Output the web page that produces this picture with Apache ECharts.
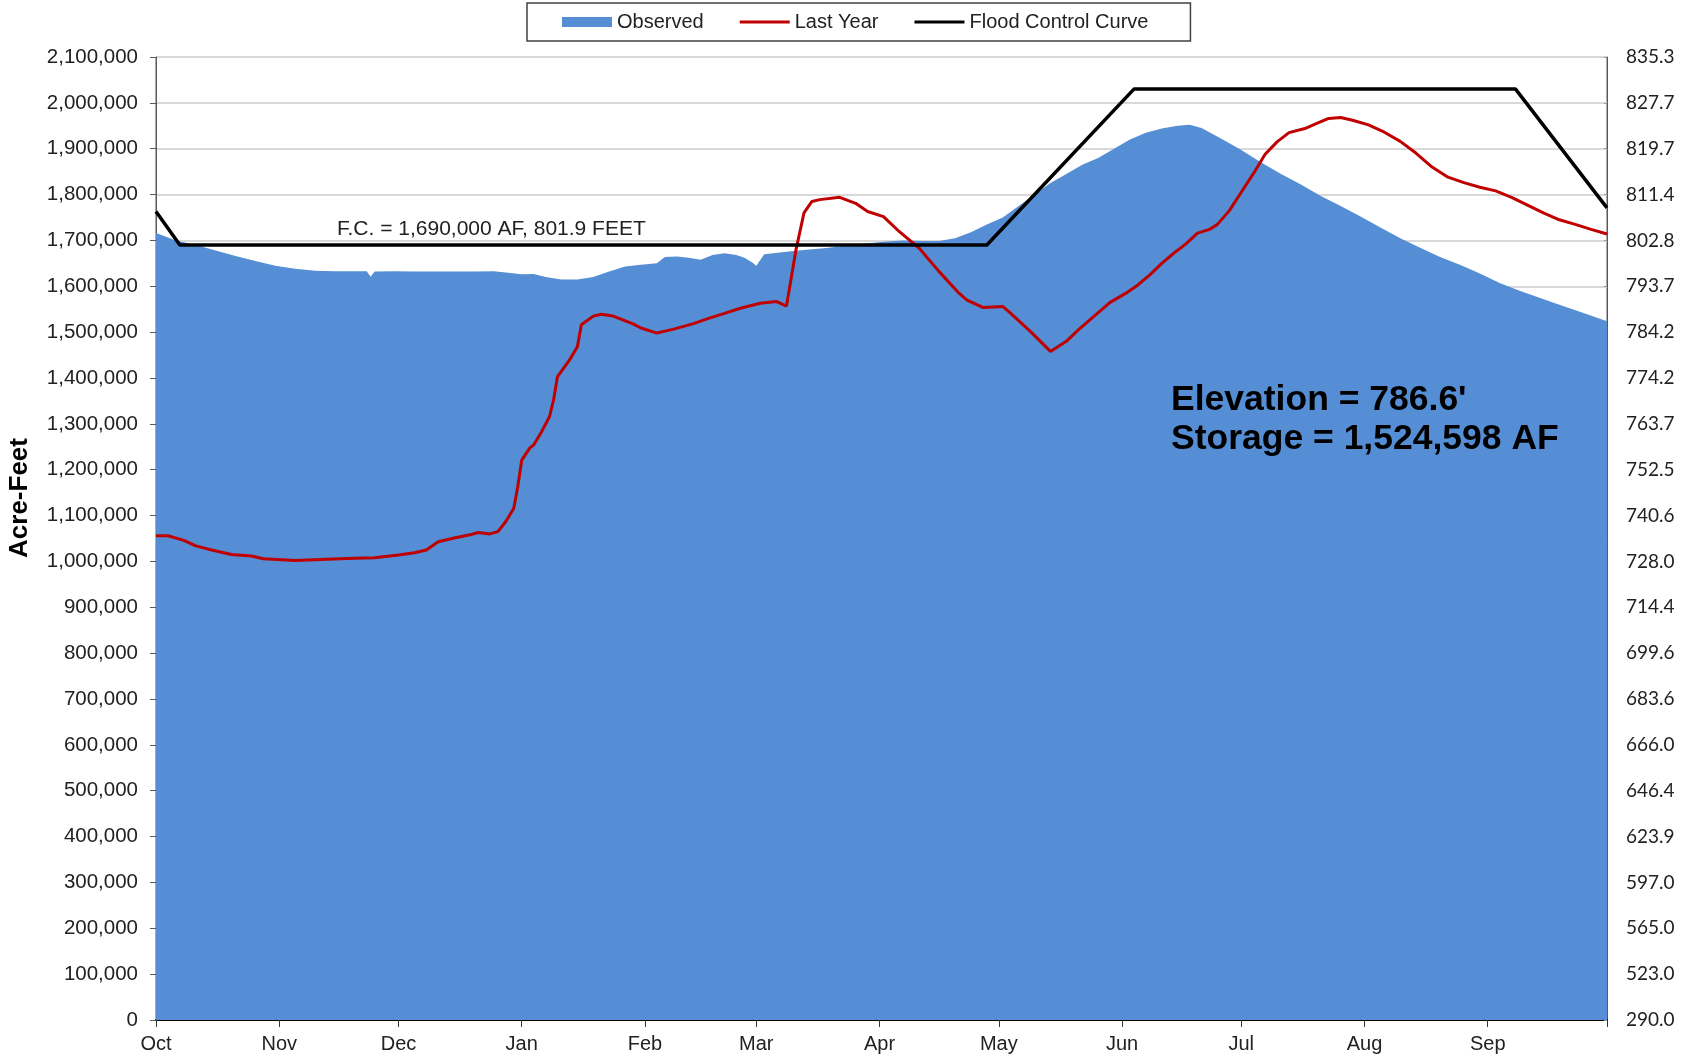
<!DOCTYPE html>
<html>
<head>
<meta charset="utf-8">
<title>Reservoir Storage</title>
<script src="https://cdn.jsdelivr.net/npm/echarts@6.0.0/dist/echarts.min.js"></script>
<style>
  html, body { margin: 0; padding: 0; background: #fff; }
  #chart { width: 1692px; height: 1060px; }
</style>
</head>
<body>
<div id="chart"></div>
<script>
// day 0 = Oct 1 of the water year, storage in acre-feet
const monthStarts = [0, 31, 61, 92, 123, 151, 182, 212, 243, 273, 304, 335, 365]
const monthNames = ['Oct', 'Nov', 'Dec', 'Jan', 'Feb', 'Mar', 'Apr', 'May', 'Jun', 'Jul', 'Aug', 'Sep']
// right axis: elevation (feet) matching each 100,000 AF gridline, bottom to top
const elevLabels = ['290.0', '523.0', '565.0', '597.0', '623.9', '646.4', '666.0', '683.6', '699.6', '714.4', '728.0',
  '740.6', '752.5', '763.7', '774.2', '784.2', '793.7', '802.8', '811.4', '819.7', '827.7', '835.3']

const observedDays = [0, 5, 10, 15, 20, 25, 30, 35, 40, 45, 50, 53, 54, 55, 60, 65, 70, 75, 80, 85,
  88, 92, 95, 98, 102, 106, 110, 114, 118, 122, 126, 128, 131, 134, 137, 140, 143, 146, 148, 150,
  151, 153, 158, 163, 168, 173, 178, 183, 188, 193, 197, 201, 205, 209, 213, 217, 221, 225, 229, 233,
  237, 241, 245, 249, 253, 257, 260, 263, 268, 273, 278, 283, 288, 293, 298, 303, 308, 313, 318, 323,
  328, 333, 338, 343, 348, 353, 358, 365]
const observedAF = [1716000, 1700000, 1690000, 1678000, 1666000, 1655000, 1645000, 1638000, 1634000, 1633000,
  1633000, 1633000, 1621000, 1632000, 1633000, 1632000, 1632000, 1632000, 1632000, 1633000,
  1630000, 1626000, 1627000, 1620000, 1615000, 1615000, 1620000, 1632000, 1643000, 1647000,
  1650000, 1664000, 1665000, 1662000, 1658000, 1668000, 1672000, 1668000, 1662000, 1652000,
  1645000, 1670000, 1675000, 1679000, 1683000, 1688000, 1693000, 1697000, 1700000, 1699000,
  1699000, 1705000, 1718000, 1735000, 1750000, 1775000, 1800000, 1825000, 1845000, 1865000,
  1880000, 1900000, 1920000, 1935000, 1944000, 1950000, 1952000, 1945000, 1922000, 1897000,
  1870000, 1845000, 1822000, 1797000, 1775000, 1752000, 1728000, 1705000, 1684000, 1664000,
  1647000, 1628000, 1607000, 1590000, 1575000, 1560000, 1545000, 1524000]

const lastYearDays = [0, 3, 7, 10, 14, 19, 24, 27, 35, 43, 50, 55, 61, 65, 68, 71, 75, 79, 81, 84,
  86, 88, 90, 91, 92, 94, 95, 97, 99, 100, 101, 104, 106, 107, 110, 112, 115, 120, 122, 126,
  130, 135, 139, 143, 147, 152, 156, 158.6, 161, 163, 165, 167, 172, 176, 179, 183, 187, 192, 197, 202,
  204, 208, 213, 215, 220, 225, 229, 232, 236, 240, 244, 247, 250, 253, 256, 259, 262, 265, 267, 270,
  273, 276, 279, 282, 285, 289, 292, 295, 298, 301, 305, 309, 313, 317, 321, 325, 329, 333, 337, 341,
  345, 349, 353, 357, 361, 365]
const lastYearAF = [1056000, 1056000, 1046000, 1034000, 1025000, 1015000, 1012000, 1006000, 1002000, 1005000,
  1007000, 1008000, 1014000, 1019000, 1025000, 1043000, 1051000, 1058000, 1063000, 1060000,
  1065000, 1087000, 1116000, 1163000, 1221000, 1247000, 1254000, 1283000, 1316000, 1352000,
  1403000, 1439000, 1468000, 1516000, 1535000, 1539000, 1535000, 1518000, 1509000, 1498000,
  1506000, 1518000, 1530000, 1541000, 1552000, 1563000, 1567000, 1557000, 1680000, 1760000,
  1785000, 1789000, 1794000, 1781000, 1763000, 1752000, 1719000, 1683000, 1632000, 1585000,
  1570000, 1554000, 1556000, 1541000, 1501000, 1458000, 1480000, 1505000, 1535000, 1565000,
  1585000, 1603000, 1625000, 1650000, 1672000, 1692000, 1716000, 1724000, 1735000, 1765000,
  1805000, 1845000, 1888000, 1915000, 1935000, 1944000, 1955000, 1966000, 1968000, 1962000,
  1952000, 1936000, 1916000, 1890000, 1860000, 1838000, 1826000, 1816000, 1808000, 1794000,
  1777000, 1760000, 1745000, 1735000, 1724000, 1714000]

const floodDays = [0, 6, 209, 246, 342, 365]
const floodAF = [1763000, 1690000, 1690000, 2030000, 2030000, 1771000]

const pairs = (xs, ys) => xs.map((x, i) => [x, ys[i]])
const font = 'Liberation Sans, Arial, sans-serif'
const lineIcon = 'path://M0,0H50V3H0Z'

const chart = echarts.init(document.getElementById('chart'))
chart.setOption({
  animation: false,
  backgroundColor: '#fff',
  textStyle: { fontFamily: font },
  legend: {
    left: 527,
    top: 3,
    padding: [9, 42, 9, 35],
    itemGap: 36,
    itemWidth: 50,
    itemHeight: 10,
    borderColor: '#404040',
    borderWidth: 1.5,
    textStyle: { fontSize: 20, color: '#222' },
    data: [
      { name: 'Observed', icon: 'rect' },
      { name: 'Last Year', icon: lineIcon },
      { name: 'Flood Control Curve', icon: lineIcon }
    ]
  },
  grid: {
    left: 156,
    right: 85,
    top: 57,
    bottom: 40,
    show: true,
    borderColor: '#595959',
    borderWidth: 1
  },
  xAxis: {
    type: 'value',
    min: 0,
    max: 365,
    splitLine: { show: false },
    axisLine: { lineStyle: { color: '#000', width: 2 } },
    axisTick: { customValues: monthStarts, length: 7, lineStyle: { color: '#333' } },
    axisLabel: {
      customValues: monthStarts.slice(0, 12),
      formatter: v => monthNames[monthStarts.indexOf(v)],
      fontSize: 20,
      color: '#222',
      margin: 14
    }
  },
  yAxis: [{
    type: 'value',
    min: 0,
    max: 2100000,
    interval: 100000,
    axisLine: { show: true, lineStyle: { color: '#595959' } },
    axisTick: { show: true, length: 6, lineStyle: { color: '#595959' } },
    axisLabel: {
      fontSize: 20.5,
      color: '#222',
      margin: 18,
      formatter: v => v.toLocaleString('en-US')
    },
    splitLine: { lineStyle: { color: '#d9d9d9', width: 2 } }
  }, {
    type: 'value',
    min: 0,
    max: 2100000,
    interval: 100000,
    position: 'right',
    axisLine: { show: true, lineStyle: { color: '#595959' } },
    axisTick: { show: true, inside: true, length: 3, lineStyle: { color: '#999' } },
    axisLabel: {
      fontSize: 19,
      fontFamily: 'Lato, Liberation Sans, sans-serif',
      color: '#222',
      margin: 19,
      formatter: v => elevLabels[Math.round(v / 100000)]
    },
    splitLine: { show: false }
  }],
  series: [{
    name: 'Observed',
    type: 'line',
    symbol: 'none',
    itemStyle: { color: '#558ed5' },
    lineStyle: { width: 0, color: '#558ed5' },
    areaStyle: { color: '#558ed5', opacity: 1 },
    data: pairs(observedDays, observedAF),
    z: 1
  }, {
    name: 'Last Year',
    type: 'line',
    symbol: 'none',
    itemStyle: { color: '#c00000' },
    lineStyle: { width: 3, color: '#c00000' },
    data: pairs(lastYearDays, lastYearAF),
    z: 2
  }, {
    name: 'Flood Control Curve',
    type: 'line',
    symbol: 'none',
    itemStyle: { color: '#000' },
    lineStyle: { width: 3.5, color: '#000' },
    data: pairs(floodDays, floodAF),
    z: 3
  }],
  graphic: [{
    type: 'text',
    x: 20,
    y: 498,
    rotation: Math.PI / 2,
    style: { text: 'Acre-Feet', font: 'bold 26px Liberation Sans, Arial, sans-serif', fill: '#000', align: 'center', verticalAlign: 'middle' }
  }, {
    type: 'text',
    x: 337,
    y: 229,
    style: { text: 'F.C. = 1,690,000 AF, 801.9 FEET', font: '21px Liberation Sans, Arial, sans-serif', fill: '#222', align: 'left', verticalAlign: 'middle' },
    z: 10
  }, {
    type: 'text',
    x: 1171,
    y: 400,
    style: { text: 'Elevation = 786.6\'', font: 'bold 35.5px Liberation Sans, Arial, sans-serif', fill: '#000', align: 'left', verticalAlign: 'middle' },
    z: 10
  }, {
    type: 'text',
    x: 1171,
    y: 439,
    style: { text: 'Storage = 1,524,598 AF', font: 'bold 35.5px Liberation Sans, Arial, sans-serif', fill: '#000', align: 'left', verticalAlign: 'middle' },
    z: 10
  }]
})
</script>
</body>
</html>
